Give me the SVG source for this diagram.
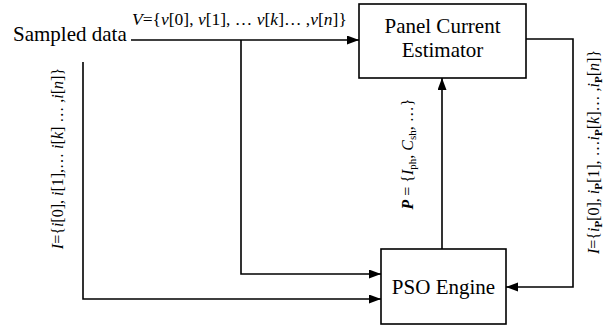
<svg xmlns="http://www.w3.org/2000/svg" width="613" height="329" viewBox="0 0 613 329">
  <style>
    .node-label { font-family: "Liberation Serif", "Times New Roman", serif; font-size: 21px; fill: #000; }
    .sig { font-family: "Liberation Serif", "Times New Roman", serif; font-size: 16px; fill: #000; }
    .sig-wide { font-size: 17.5px; }
    .it { font-style: italic; }
    .bi { font-style: italic; font-weight: bold; }
    .sub { font-size: 11px; }
    .box { fill: #fff; stroke: #000; stroke-width: 1.6; }
    .wire { fill: none; stroke: #000; stroke-width: 1.6; }
  </style>
  <defs>
    <marker id="arrow" markerUnits="userSpaceOnUse" markerWidth="12" markerHeight="10" refX="12" refY="4.5" orient="auto">
      <path d="M0,0 L12,4.5 L0,9 z" fill="#000"/>
    </marker>
  </defs>

  <rect width="613" height="329" fill="#fff"/>

  <!-- connectors -->
  <g id="connectors">
    <path class="wire" d="M131,40 H359" marker-end="url(#arrow)"/>
    <path class="wire" d="M241,40 V274 H381" marker-end="url(#arrow)"/>
    <path class="wire" d="M83,62 V299 H381" marker-end="url(#arrow)"/>
    <path class="wire" d="M442,249 V78" marker-end="url(#arrow)"/>
    <path class="wire" d="M526,39 H573 V287 H506" marker-end="url(#arrow)"/>
  </g>

  <!-- signal labels -->
  <g id="signal-labels">
    <text class="sig sig-wide" x="132" y="25"><tspan class="it">V</tspan>={<tspan class="it">v</tspan>[0], <tspan class="it">v</tspan>[1], … <tspan class="it">v</tspan>[<tspan class="it">k</tspan>]… ,<tspan class="it">v</tspan>[<tspan class="it">n</tspan>]}</text>
    <text class="sig" text-anchor="middle" transform="translate(63,158.5) rotate(-90)"><tspan class="it">I</tspan>={<tspan class="it">i</tspan>[0], <tspan class="it">i</tspan>[1],… <tspan class="it">i</tspan>[<tspan class="it">k</tspan>] … ,<tspan class="it">i</tspan>[<tspan class="it">n</tspan>]}</text>
    <text class="sig" text-anchor="middle" transform="translate(413,154) rotate(-90)"><tspan class="bi">P</tspan> = {<tspan class="it">I</tspan><tspan class="sub" dy="3">ph</tspan><tspan dy="-3">, </tspan><tspan class="it">C</tspan><tspan class="sub" dy="3">sh</tspan><tspan dy="-3">, …}</tspan></text>
    <text class="sig" text-anchor="middle" transform="translate(599,152) rotate(-90)"><tspan class="it">I</tspan>={<tspan class="it">i</tspan><tspan class="sub" font-weight="bold" dy="3">P</tspan><tspan dy="-3">[0], </tspan><tspan class="it">i</tspan><tspan class="sub" font-weight="bold" dy="3">P</tspan><tspan dy="-3">[1], …</tspan><tspan class="it">i</tspan><tspan class="sub" font-weight="bold" dy="3">P</tspan><tspan dy="-3">[</tspan><tspan class="it">k</tspan>]… ,<tspan class="it">i</tspan><tspan class="sub" font-weight="bold" dy="3">P</tspan><tspan dy="-3">[</tspan><tspan class="it">n</tspan>]}</text>
  </g>

  <!-- nodes -->
  <g id="sampled-data">
    <text class="node-label" x="13" y="41">Sampled data</text>
  </g>

  <g id="panel-current-estimator">
    <rect class="box" x="359" y="4" width="167" height="74"/>
    <text class="node-label" x="442.5" y="33" text-anchor="middle">Panel Current</text>
    <text class="node-label" x="442.5" y="57" text-anchor="middle">Estimator</text>
  </g>

  <g id="pso-engine">
    <rect class="box" x="381" y="249" width="125" height="75"/>
    <text class="node-label" x="443.5" y="294" text-anchor="middle">PSO Engine</text>
  </g>
</svg>
